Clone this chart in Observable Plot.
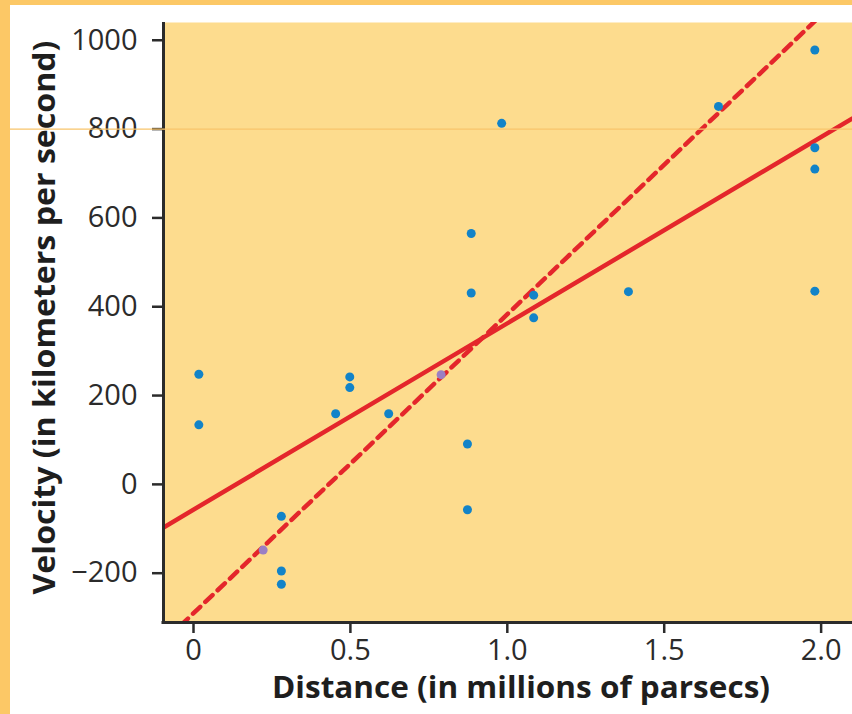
<!DOCTYPE html>
<html>
<head>
<meta charset="utf-8">
<script src="https://cdn.jsdelivr.net/npm/d3@7"></script>
<script src="https://cdn.jsdelivr.net/npm/@observablehq/plot@0.6"></script>
<style>
  html, body { margin: 0; padding: 0; background: #ffffff; }
  #chart {
    width: 842px;
    height: 709px;
    border-left: 10px solid #fcc866;
    border-top: 5px solid #fcc866;
    overflow: hidden;
  }
  #chart svg { display: block; }
</style>
</head>
<body>
<div id="chart"></div>
<script>
// Galaxy distances (millions of parsecs) and recession velocities (km/s)
const distance = [0.017, 0.017, 0.222, 0.280, 0.280, 0.280, 0.453, 0.498, 0.498, 0.622, 0.789, 0.873,
                  0.873, 0.885, 0.885, 0.982, 1.084, 1.084, 1.386, 1.673, 1.980, 1.980, 1.980, 1.980];
const velocity = [248, 134, -148, -72, -195, -225, 159, 242, 218, 159, 247, 91,
                  -57, 565, 431, 813, 426, 375, 434, 851, 978, 758, 710, 435];
const group = ["galaxy", "galaxy", "highlight", "galaxy", "galaxy", "galaxy", "galaxy", "galaxy", "galaxy", "galaxy", "highlight", "galaxy",
               "galaxy", "galaxy", "galaxy", "galaxy", "galaxy", "galaxy", "galaxy", "galaxy", "galaxy", "galaxy", "galaxy", "galaxy"];

// Best-fit line through all galaxies (solid)
const fitDistance = [-0.0956, 2.1];
const fitVelocity = [-97, 824];
// Steeper fit line (dashed)
const steepDistance = [-0.08, 2.05];
const steepVelocity = [-344, 1090];

// Axis ticks
const xTicks = [0, 0.5, 1.0, 1.5, 2.0];
const xTickLabels = ["0", "0.5", "1.0", "1.5", "2.0"];
const yTicks = [-200, 0, 200, 400, 600, 800, 1000];
const yTickLabels = ["\u2212200", "0", "200", "400", "600", "800", "1000"];
const guideVelocity = [800];

const xTitle = "Distance (in millions of parsecs)";
const yTitle = "Velocity (in kilometers per second)";

const xDomain = [-0.0956, 2.1];
const yDomain = [-311, 1040];

const points = distance.map((d, i) => ({distance: d, velocity: velocity[i], group: group[i]}));
const fitLine = fitDistance.map((d, i) => ({distance: d, velocity: fitVelocity[i]}));
const steepLine = steepDistance.map((d, i) => ({distance: d, velocity: steepVelocity[i]}));

const ink = "#2b2b2b";
const red = "#e4262b";

const chart = Plot.plot({
  width: 842,
  height: 709,
  marginLeft: 153,
  marginTop: 17,
  marginRight: 0,
  marginBottom: 92,
  style: {background: "#ffffff", fontFamily: "'Open Sans', sans-serif", color: ink, overflow: "visible"},
  x: {domain: xDomain},
  y: {domain: yDomain},
  color: {domain: ["galaxy", "highlight"], range: ["#1283c8", "#9a7fc4"]},
  marks: [
    Plot.frame({fill: "#fddc8e", stroke: "none"}),
    Plot.line(fitLine, {x: "distance", y: "velocity", stroke: red, strokeWidth: 4.5, clip: true}),
    Plot.line(steepLine, {x: "distance", y: "velocity", stroke: red, strokeWidth: 4.5,
      strokeDasharray: "10,7", clip: true}),
    Plot.dot(points, {x: "distance", y: "velocity", fill: "group", r: 4.5}),
    Plot.ruleX([xDomain[0]], {stroke: ink, strokeWidth: 3}),
    Plot.ruleY([yDomain[0]], {stroke: ink, strokeWidth: 3, insetLeft: -1.5}),
    Plot.axisX({ticks: xTicks, tickFormat: (d, i) => xTickLabels[i], tickSize: 11, tickPadding: 6,
      fontSize: 29, strokeWidth: 2.5, stroke: ink, fill: ink, label: null}),
    Plot.axisY({ticks: yTicks, tickFormat: (d, i) => yTickLabels[i], tickSize: 11, tickPadding: 15,
      fontSize: 29, strokeWidth: 2.5, stroke: ink, fill: ink, label: null}),
    Plot.text([xTitle], {frameAnchor: "bottom", textAnchor: "middle", dx: 13, dy: 75,
      fontSize: 31, fontWeight: "bold", fill: "#1e1e1e"}),
    Plot.text([yTitle], {frameAnchor: "left", textAnchor: "middle", dx: -118, dy: -5,
      rotate: -90, fontSize: 31, fontWeight: "bold", fill: "#1e1e1e"}),
    Plot.ruleY(guideVelocity, {stroke: "#f8c46a", strokeWidth: 1.2, insetLeft: -153})
  ]
});

// Fit the axis titles to the condensed widths of the printed figure
const titleWidths = new Map([[xTitle, 498], [yTitle, 554]]);
d3.select(chart).selectAll("text")
  .filter(function () { return titleWidths.has(this.textContent); })
  .attr("textLength", function () { return titleWidths.get(this.textContent); })
  .attr("lengthAdjust", "spacingAndGlyphs");

document.getElementById("chart").appendChild(chart);
</script>
</body>
</html>
